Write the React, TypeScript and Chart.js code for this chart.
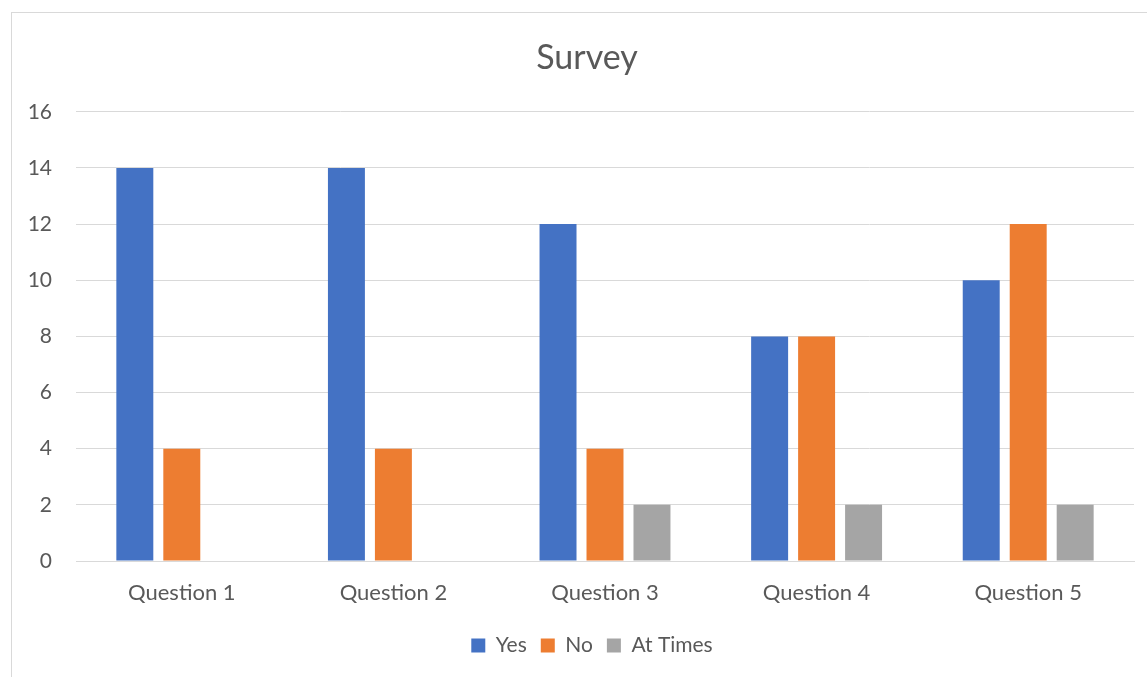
import React, { useEffect, useRef } from "react";
import { Chart, registerables } from "chart.js";

Chart.register(...registerables);

const categories = ["Question 1", "Question 2", "Question 3", "Question 4", "Question 5"];
const yesValues = [14, 14, 12, 8, 10];
const noValues = [4, 4, 4, 8, 12];
const atTimesValues = [0, 0, 2, 2, 2];
const seriesNames = ["Yes", "No", "At Times"];
const yTicks = [0, 2, 4, 6, 8, 10, 12, 14, 16];

const FONT = "Lato, 'Open Sans', sans-serif";

const shiftPlugin = {
  id: "shiftBlocks",
  afterLayout(chart: any) {
    if (chart.titleBlock) {
      chart.titleBlock.left += 10;
      chart.titleBlock.right += 10;
    }
    if (chart.legend) {
      chart.legend.left += 15;
      chart.legend.right += 15;
    }
  },
};

export default function App() {
  const ref = useRef<HTMLCanvasElement | null>(null);
  useEffect(() => {
    if (!ref.current) return;
    const chart = new Chart(ref.current, {
      type: "bar",
      data: {
        labels: categories,
        datasets: [
          { label: seriesNames[0], data: yesValues, backgroundColor: "#4472C4" },
          { label: seriesNames[1], data: noValues, backgroundColor: "#ED7D31" },
          { label: seriesNames[2], data: atTimesValues, backgroundColor: "#A5A5A5" },
        ],
      },
      plugins: [shiftPlugin],
      options: {
        responsive: false,
        animation: false,
        layout: { padding: { left: 20, right: 13, top: 38, bottom: 11 } },
        datasets: { bar: { categoryPercentage: 0.666, barPercentage: 0.787 } } as any,
        plugins: {
          title: {
            display: true,
            text: "Survey",
            color: "#595959",
            font: { family: FONT, size: 34, weight: "normal" },
            padding: { top: 0, bottom: 33 },
          },
          legend: {
            display: true,
            position: "bottom",
            labels: {
              color: "#595959",
              font: { family: FONT, size: 21 },
              boxWidth: 14,
              boxHeight: 14,
              padding: 14,
            },
          },
          tooltip: { enabled: false },
        },
        scales: {
          x: {
            afterFit: (axis: any) => {
              axis.height = 60;
            },
            grid: { display: false, drawTicks: false },
            border: { display: true, color: "#d9d9d9", width: 1 },
            ticks: { color: "#595959", font: { family: FONT, size: 22 }, padding: 19 },
          },
          y: {
            min: 0,
            max: 16,
            afterFit: (axis: any) => {
              axis.width = 56;
            },
            afterBuildTicks: (axis: any) => {
              axis.ticks = yTicks.map((v) => ({ value: v }));
            },
            grid: { color: "#d9d9d9", lineWidth: 1, drawTicks: false },
            border: { display: false },
            ticks: { color: "#595959", font: { family: FONT, size: 21 }, padding: 24 },
          },
        },
      },
    });
    return () => chart.destroy();
  }, []);
  return (
    <div style={{ position: "fixed", left: 0, top: 0, width: 1147, height: 677, overflow: "hidden", background: "#fff" }}>
      <div
        style={{
          position: "absolute",
          left: 11,
          top: 12,
          width: 1200,
          height: 700,
          border: "1px solid #d9d9d9",
          boxSizing: "border-box",
        }}
      />
      <canvas ref={ref} width={1147} height={677} style={{ position: "absolute", left: 0, top: 0, display: "block" }} />
    </div>
  );
}
